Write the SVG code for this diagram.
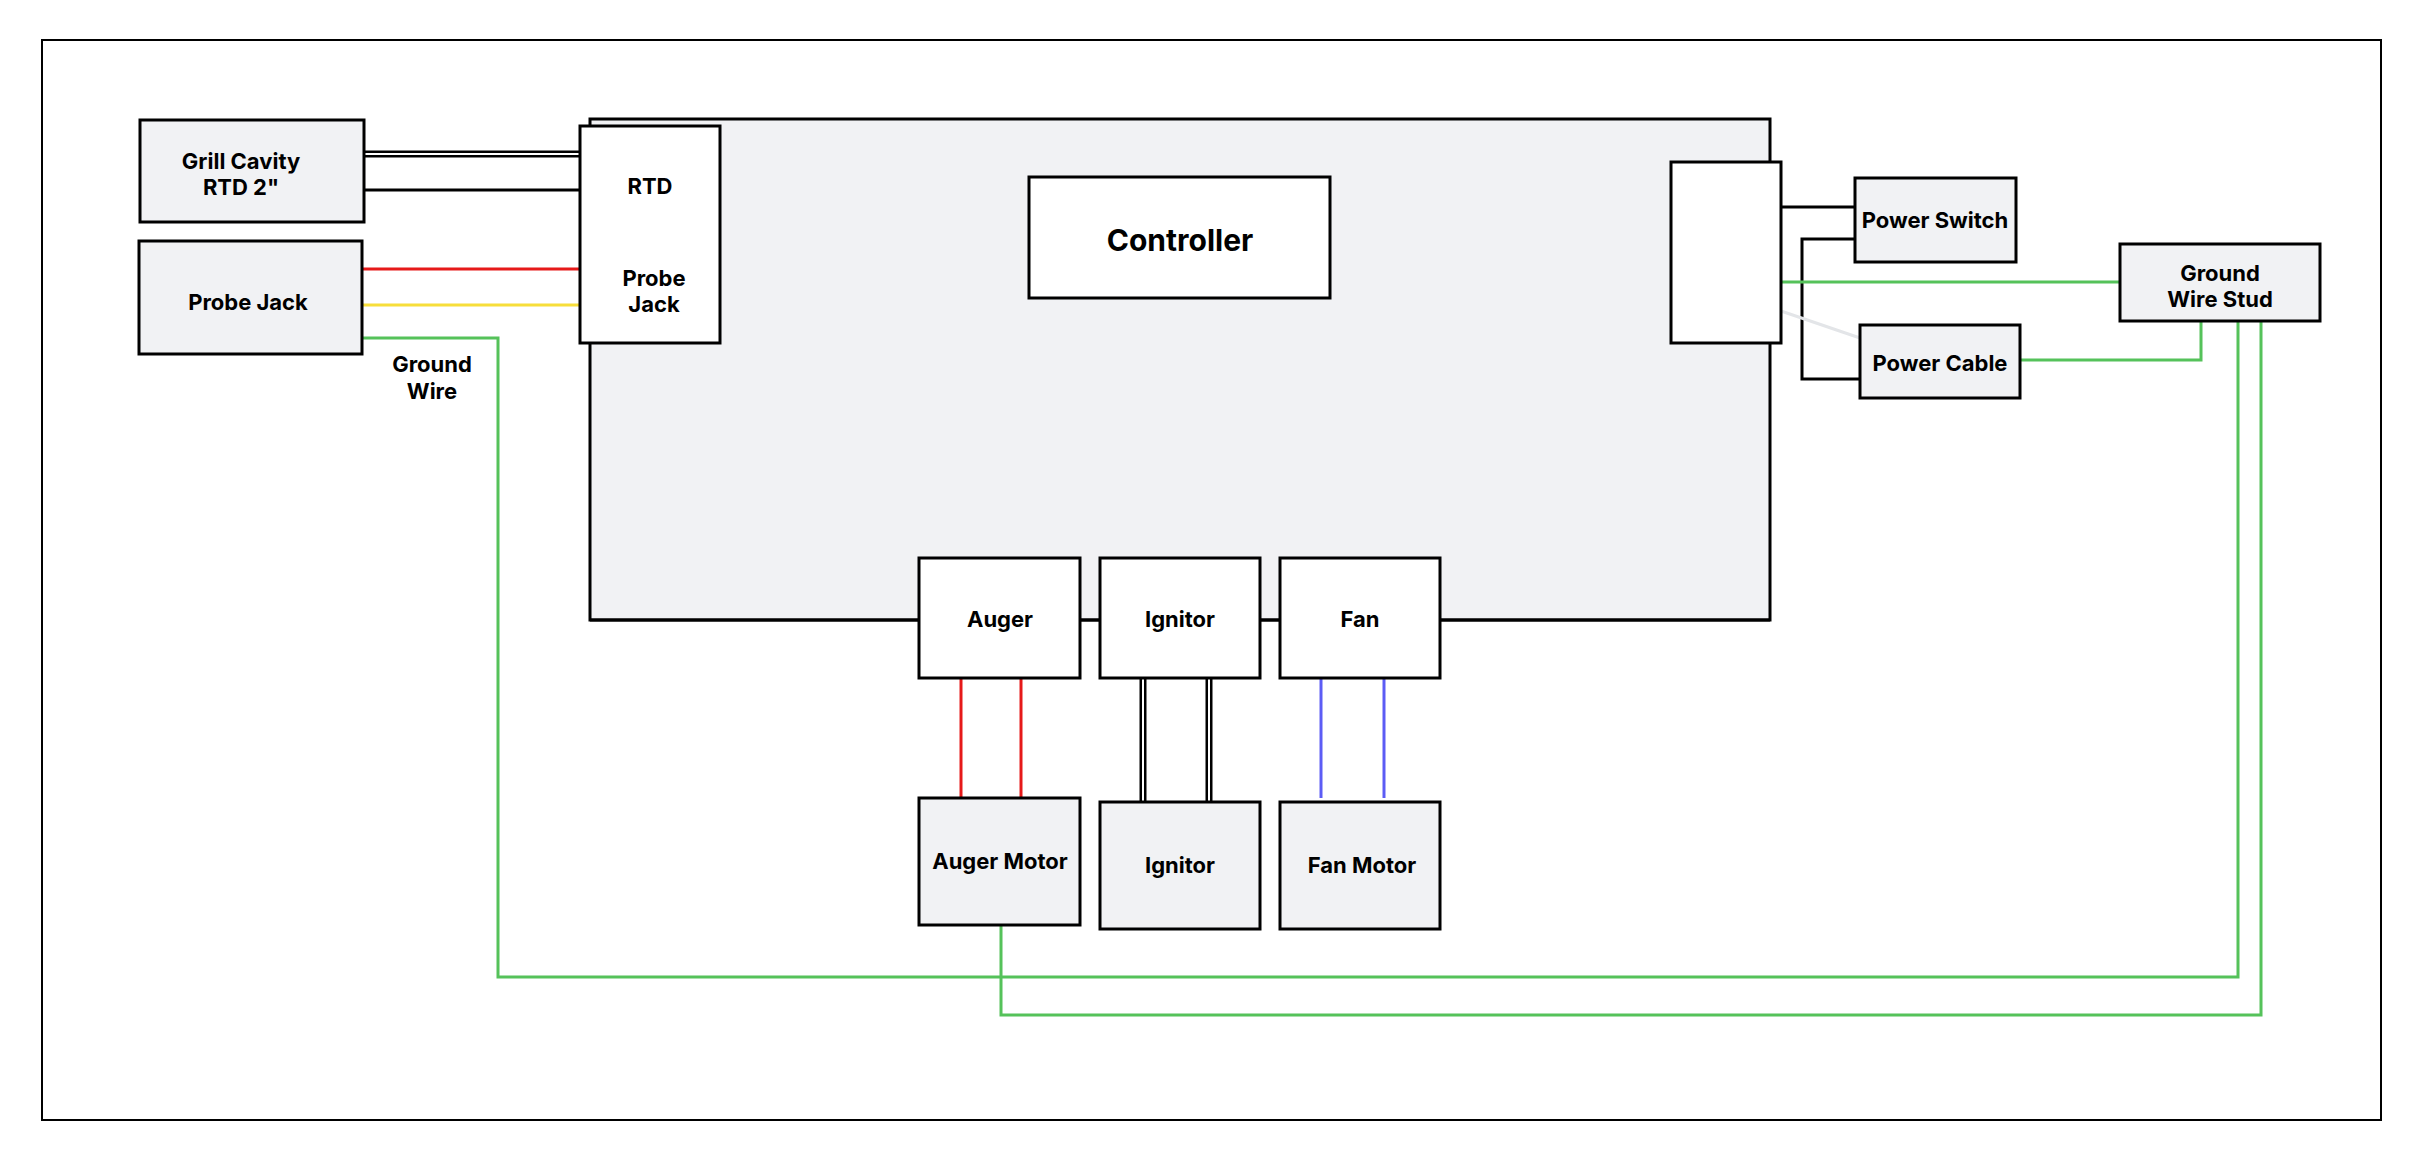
<svg xmlns="http://www.w3.org/2000/svg" width="2420" height="1160" viewBox="0 0 2420 1160">
<style>
.g{fill:#f1f2f4;stroke:#000;stroke-width:3}
.w{fill:#fff;stroke:#000;stroke-width:3}
text{font-family:Inter,"Liberation Sans",sans-serif;font-weight:700;font-size:22px;text-anchor:middle;dominant-baseline:central;fill:#000}
.k{fill:none;stroke:#000;stroke-width:3}
.gr{fill:none;stroke:#55c25a;stroke-width:3}
</style>
<rect x="0" y="0" width="2420" height="1160" fill="#fff"/>
<rect x="42" y="40" width="2339" height="1080" fill="none" stroke="#000" stroke-width="2"/>
<g id="controller-board"><rect class="g" x="590" y="119" width="1180" height="501" stroke-width="2"/></g>
<g id="controller"><rect class="w" x="1029" y="177" width="301" height="121" stroke-width="2"/><text x="1180" y="240" style="font-size:30px">Controller</text></g>
<g id="connectors">
<line x1="364" y1="154" x2="582" y2="154" stroke="#000" stroke-width="7"/>
<line x1="364" y1="154" x2="582" y2="154" stroke="#fff" stroke-width="2"/>
<line class="k" x1="364" y1="190" x2="580" y2="190"/>
<line x1="362" y1="269" x2="580" y2="269" stroke="#e61919" stroke-width="3"/>
<line x1="362" y1="305" x2="580" y2="305" stroke="#f7de3a" stroke-width="3"/>
<polyline class="gr" points="362,338 498,338 498,977 2238,977 2238,321"/>
<polyline class="gr" points="1001,925 1001,1015 2261,1015 2261,321"/>
<line class="k" x1="1781" y1="207" x2="1855" y2="207"/>
<polyline class="k" points="1855,239 1802,239 1802,379 1860,379"/>
<line x1="1781" y1="311" x2="1860" y2="338" stroke="#e3e5e8" stroke-width="3"/>
<line class="gr" x1="1781" y1="282" x2="2120" y2="282"/>
<polyline class="gr" points="2020,360 2201,360 2201,321"/>
<line class="k" x1="590" y1="620" x2="1770" y2="620" stroke-width="2"/>
<line x1="961" y1="678" x2="961" y2="798" stroke="#e61919" stroke-width="3"/>
<line x1="1021" y1="678" x2="1021" y2="798" stroke="#e61919" stroke-width="3"/>
<line x1="1143" y1="678" x2="1143" y2="802" stroke="#000" stroke-width="7"/>
<line x1="1143" y1="678" x2="1143" y2="802" stroke="#fff" stroke-width="2"/>
<line x1="1209" y1="678" x2="1209" y2="802" stroke="#000" stroke-width="7"/>
<line x1="1209" y1="678" x2="1209" y2="802" stroke="#fff" stroke-width="2"/>
<line x1="1321" y1="678" x2="1321" y2="798" stroke="#5c5cf5" stroke-width="3"/>
<line x1="1384" y1="678" x2="1384" y2="798" stroke="#5c5cf5" stroke-width="3"/>
</g>
<g id="grill-rtd"><rect class="g" x="140" y="120" width="224" height="102"/><text x="241" y="161">Grill Cavity</text><text x="241" y="187">RTD 2"</text></g>
<g id="probe-jack"><rect class="g" x="139" y="241" width="223" height="113"/><text x="248" y="302">Probe Jack</text></g>
<text x="432" y="364">Ground</text><text x="432" y="391">Wire</text>
<g id="rtd-port"><rect class="w" x="580" y="126" width="140" height="217"/><text x="650" y="186">RTD</text><text x="654" y="278">Probe</text><text x="654" y="304">Jack</text></g>
<g id="power-port"><rect class="w" x="1671" y="162" width="110" height="181"/></g>
<g id="power-switch"><rect class="g" x="1855" y="178" width="161" height="84"/><text x="1935" y="220">Power Switch</text></g>
<g id="power-cable"><rect class="g" x="1860" y="325" width="160" height="73"/><text x="1940" y="363">Power Cable</text></g>
<g id="ground-stud"><rect class="g" x="2120" y="244" width="200" height="77"/><text x="2220" y="273">Ground</text><text x="2220" y="299">Wire Stud</text></g>
<g id="auger"><rect class="w" x="919" y="558" width="161" height="120"/><text x="1000" y="619">Auger</text></g>
<g id="ignitor"><rect class="w" x="1100" y="558" width="160" height="120"/><text x="1180" y="619">Ignitor</text></g>
<g id="fan"><rect class="w" x="1280" y="558" width="160" height="120"/><text x="1360" y="619">Fan</text></g>
<g id="auger-motor"><rect class="g" x="919" y="798" width="161" height="127"/><text x="1000" y="861">Auger Motor</text></g>
<g id="ignitor-dev"><rect class="g" x="1100" y="802" width="160" height="127"/><text x="1180" y="865">Ignitor</text></g>
<g id="fan-motor"><rect class="g" x="1280" y="802" width="160" height="127"/><text x="1362" y="865">Fan Motor</text></g>
</svg>
